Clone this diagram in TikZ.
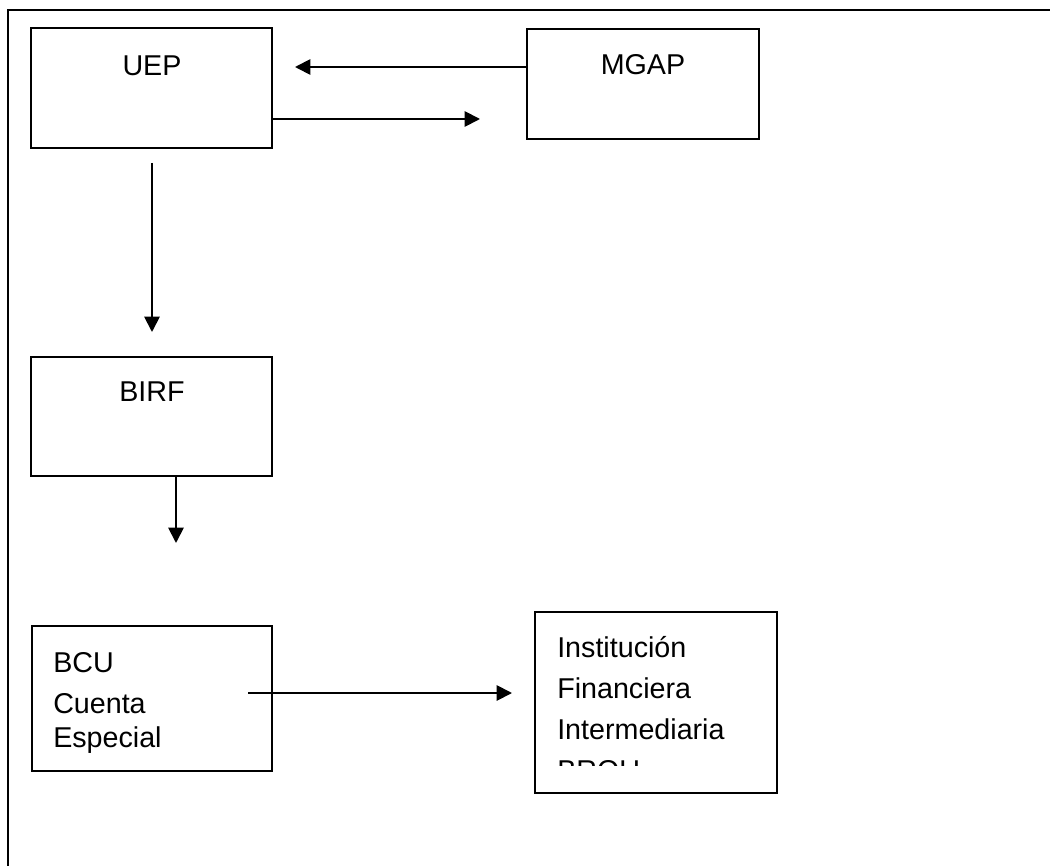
\documentclass[tikz,border=0pt]{standalone}
\usepackage{fontspec}
\setmainfont{Liberation Sans}
\usetikzlibrary{arrows.meta}
\usetikzlibrary{positioning}

\tikzset{
  box/.style={draw, line width=1.5pt, inner sep=0pt},
  txt/.style={font=\fontsize{21.5}{25.5}\selectfont, inner sep=0pt},
  arr/.style={line width=1.4pt, -{Triangle[length=11.5pt, width=11.5pt]}}
}

\begin{document}
\begin{tikzpicture}[line cap=butt,line join=miter, x=0.75pt,y=-0.75pt]
\useasboundingbox (0,0) rectangle (1050,866);
% outer frame
\draw [line width=2pt] (8,866) -- (8,10) -- (1050,10);
% boxes
\node[box, minimum width=180.75pt, minimum height=90pt] (uep) at (151.5,88) {};
\node[box, minimum width=174pt, minimum height=82.5pt] (mgap) at (643,84) {};
\node[box, minimum width=180.75pt, minimum height=89.25pt] (birf) at (151.5,416.5) {};
\node[box, minimum width=180pt, minimum height=108.75pt] (bcu) at (152,698.5) {};
\node[box, minimum width=181.5pt, minimum height=135.75pt] (ifi) at (656,702.5) {};
% texts (base = last line)
\node[txt, anchor=base] (uepT) at (152,76) {UEP};
\node[txt, anchor=base] (mgapT) at (643,75) {MGAP};
\node[txt, anchor=base] (birfT) at (152,402) {BIRF};
\node[txt, anchor=base west, align=left] (bcuT) at (53,747) {BCU\\[5.25pt]Cuenta\\Especial};
\begin{scope}
\clip (535,612) rectangle (777,765);
\node[txt, anchor=base west, align=left, font=\fontsize{21.5}{30.75}\selectfont] (ifiT) at (557,780)
  {Institución\\Financiera\\Intermediaria\\BROU};
\end{scope}
% free ends
\coordinate (uepIn) at (295,67);
\coordinate (mgapIn) at (480,119);
\coordinate (uepOut) at (152,163);
\coordinate (birfIn) at (152,332);
\coordinate (bcuIn) at (176,543);
\coordinate (bcuOut) at (248,693);
\coordinate (ifiIn) at (512,693);
% connectors
\draw [arr] (mgap.west |- uepIn) -- (uepIn);
\draw [arr] (uep.east |- mgapIn) -- (mgapIn);
\draw [arr] (uepOut) -- (birfIn);
\draw [arr] (birf.south -| bcuIn) -- (bcuIn);
\draw [arr] (bcuOut) -- (ifiIn);
\end{tikzpicture}
\end{document}
